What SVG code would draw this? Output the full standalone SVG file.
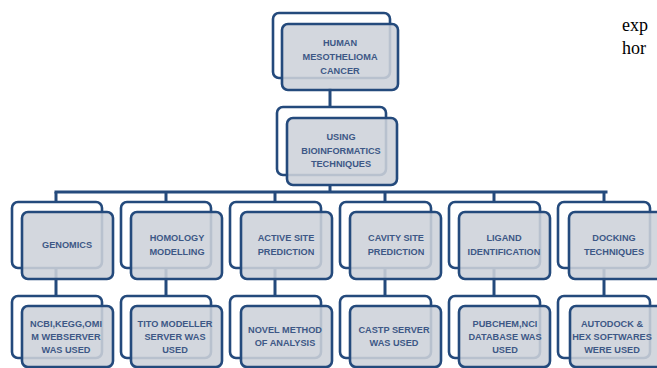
<svg xmlns="http://www.w3.org/2000/svg" width="657" height="368" viewBox="0 0 657 368">
<style>
.back{fill:#ffffff;stroke:#244a7c;stroke-width:2.6}
.front{fill:#cdd1da;fill-opacity:0.88;stroke:#244a7c;stroke-width:2.6}
.lbl{font-family:"Liberation Sans",Arial,sans-serif;font-weight:bold;font-size:9.2px;fill:#3d5886;text-anchor:middle}
.conn{stroke:#244a7c;stroke-width:3;fill:none}
.body{font-family:"Liberation Serif","Times New Roman",serif;font-size:18px;fill:#000}
</style>
<rect width="657" height="368" fill="#ffffff"/>
<g id="connectors">
<line class="conn" x1="330" y1="88" x2="330" y2="108"/>
<line class="conn" x1="330" y1="184" x2="330" y2="193"/>
<line class="conn" x1="56" y1="192" x2="606" y2="192" stroke-linecap="square"/>
<line class="conn" x1="56" y1="192" x2="56" y2="203"/>
<line class="conn" x1="166" y1="192" x2="166" y2="203"/>
<line class="conn" x1="275" y1="192" x2="275" y2="203"/>
<line class="conn" x1="385" y1="192" x2="385" y2="203"/>
<line class="conn" x1="494" y1="192" x2="494" y2="203"/>
<line class="conn" x1="604" y1="192" x2="604" y2="203"/>
<line class="conn" x1="56" y1="268" x2="56" y2="297"/>
<line class="conn" x1="166" y1="268" x2="166" y2="297"/>
<line class="conn" x1="275" y1="268" x2="275" y2="297"/>
<line class="conn" x1="385" y1="268" x2="385" y2="297"/>
<line class="conn" x1="494" y1="268" x2="494" y2="297"/>
<line class="conn" x1="604" y1="268" x2="604" y2="297"/>
</g>
<g id="n-human">
<rect class="back" x="273" y="13" width="117" height="65" rx="6"/>
<rect class="front" x="282" y="24" width="116" height="66" rx="6"/>
<text class="lbl" x="340" y="46">HUMAN</text>
<text class="lbl" x="340" y="60">MESOTHELIOMA</text>
<text class="lbl" x="340" y="74">CANCER</text>
</g>
<g id="n-bio">
<rect class="back" x="277" y="107" width="109" height="68" rx="6"/>
<rect class="front" x="287" y="118" width="110" height="67" rx="6"/>
<text class="lbl" x="341" y="140">USING</text>
<text class="lbl" x="341" y="154">BIOINFORMATICS</text>
<text class="lbl" x="341" y="167">TECHNIQUES</text>
</g>
<g id="n-genomics">
<rect class="back" x="12" y="202" width="90" height="66" rx="6"/>
<rect class="front" x="22" y="212" width="91" height="67" rx="6"/>
<text class="lbl" x="67" y="248">GENOMICS</text>
</g>
<g id="n-homology">
<rect class="back" x="121" y="202" width="90" height="66" rx="6"/>
<rect class="front" x="131" y="212" width="91" height="67" rx="6"/>
<text class="lbl" x="177" y="241">HOMOLOGY</text>
<text class="lbl" x="177" y="255">MODELLING</text>
</g>
<g id="n-active">
<rect class="back" x="230" y="202" width="91" height="66" rx="6"/>
<rect class="front" x="241" y="212" width="91" height="67" rx="6"/>
<text class="lbl" x="286" y="241">ACTIVE SITE</text>
<text class="lbl" x="286" y="255">PREDICTION</text>
</g>
<g id="n-cavity">
<rect class="back" x="340" y="202" width="91" height="66" rx="6"/>
<rect class="front" x="350" y="212" width="91" height="67" rx="6"/>
<text class="lbl" x="396" y="241">CAVITY SITE</text>
<text class="lbl" x="396" y="255">PREDICTION</text>
</g>
<g id="n-ligand">
<rect class="back" x="449" y="202" width="91" height="66" rx="6"/>
<rect class="front" x="459" y="212" width="91" height="67" rx="6"/>
<text class="lbl" x="504" y="241">LIGAND</text>
<text class="lbl" x="504" y="255">IDENTIFICATION</text>
</g>
<g id="n-docking">
<rect class="back" x="558" y="202" width="92" height="66" rx="6"/>
<rect class="front" x="569" y="212" width="94" height="67" rx="6"/>
<text class="lbl" x="614" y="241">DOCKING</text>
<text class="lbl" x="614" y="255">TECHNIQUES</text>
</g>
<g id="n-ncbi">
<rect class="back" x="12" y="296" width="90" height="62" rx="6"/>
<rect class="front" x="22" y="306" width="91" height="61" rx="6"/>
<text class="lbl" x="66" y="327">NCBI,KEGG,OMI</text>
<text class="lbl" x="66" y="340">M WEBSERVER</text>
<text class="lbl" x="66" y="353">WAS USED</text>
</g>
<g id="n-tito">
<rect class="back" x="121" y="296" width="90" height="62" rx="6"/>
<rect class="front" x="131" y="306" width="91" height="61" rx="6"/>
<text class="lbl" x="175" y="327">TITO MODELLER</text>
<text class="lbl" x="175" y="340">SERVER WAS</text>
<text class="lbl" x="175" y="353">USED</text>
</g>
<g id="n-novel">
<rect class="back" x="230" y="296" width="91" height="62" rx="6"/>
<rect class="front" x="241" y="306" width="91" height="61" rx="6"/>
<text class="lbl" x="285" y="333">NOVEL METHOD</text>
<text class="lbl" x="285" y="346">OF ANALYSIS</text>
</g>
<g id="n-castp">
<rect class="back" x="340" y="296" width="91" height="62" rx="6"/>
<rect class="front" x="350" y="306" width="91" height="61" rx="6"/>
<text class="lbl" x="394" y="333">CASTP  SERVER</text>
<text class="lbl" x="394" y="346">WAS USED</text>
</g>
<g id="n-pubchem">
<rect class="back" x="449" y="296" width="91" height="62" rx="6"/>
<rect class="front" x="459" y="306" width="91" height="61" rx="6"/>
<text class="lbl" x="505" y="327">PUBCHEM,NCI</text>
<text class="lbl" x="505" y="340">DATABASE WAS</text>
<text class="lbl" x="505" y="353">USED</text>
</g>
<g id="n-autodock">
<rect class="back" x="558" y="296" width="92" height="62" rx="6"/>
<rect class="front" x="570" y="306" width="94" height="61" rx="6"/>
<text class="lbl" x="612" y="327">AUTODOCK &amp;</text>
<text class="lbl" x="612" y="340">HEX SOFTWARES</text>
<text class="lbl" x="612" y="353">WERE USED</text>
</g>
<text class="body" x="622" y="31">exp</text>
<text class="body" x="622" y="54">hor</text>
</svg>
